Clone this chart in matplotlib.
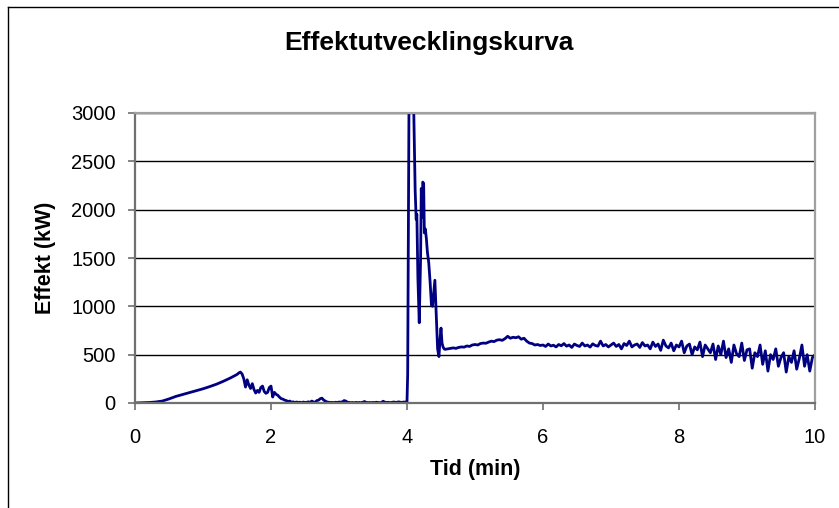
import matplotlib
matplotlib.use("Agg")
import matplotlib.pyplot as plt
from matplotlib.lines import Line2D
import numpy as np

plt.rcParams['font.family'] = ['Liberation Sans', 'DejaVu Sans']

# effect (kW), piece by piece along the time axis (min)
rise_t = (0.0, 1.5)
rise_kw = [0, 2, 5, 10, 20, 42, 68, 88, 108, 127, 147, 170, 195, 225, 258, 295]

decay_t = (1.5, 4.0)
decay_kw = [295, 310, 320, 300, 250, 165, 240, 185, 150, 200, 140, 103, 130, 110,
            160, 175, 120, 100, 110, 160, 175, 62, 110, 90, 80, 60, 45, 40, 30, 25,
            15, 20, 8, 12, 5, 10, 6, 8, 3, 10, 5, 7, 12, 6, 20, 10, 8, 25, 30, 45,
            50, 30, 20, 10, 8, 5, 6, 3, 8, 5, 10, 8, 12, 25, 20, 8, 5, 3, 5, 2, 6,
            4, 5, 3, 8, 15, 6, 4, 5, 3, 6, 4, 8, 5, 3, 6, 18, 8, 5, 7, 4, 6, 10, 8,
            6, 12, 8, 6, 10, 8, 12]

peak_t = [4.000, 4.010, 4.020, 4.030, 4.045, 4.060, 4.075, 4.090, 4.100, 4.120,
          4.135, 4.145, 4.160, 4.180, 4.200, 4.210, 4.220, 4.232, 4.245, 4.255,
          4.270, 4.285, 4.300, 4.320, 4.340, 4.360, 4.375, 4.395, 4.410, 4.430,
          4.450, 4.470, 4.485, 4.500, 4.515, 4.530, 4.545]
peak_kw = [12, 300, 1800, 3200, 3600, 3500, 3300, 3100, 3000, 2200,
           1900, 1950, 1300, 830, 1500, 2220, 1920, 2285, 2270, 1760,
           1800, 1700, 1560, 1450, 1250, 1010, 1000, 1150, 1270, 900,
           560, 480, 650, 775, 620, 580, 560]

plateau_t = (4.56, 6.0)
plateau_kw = [555, 560, 565, 570, 565, 575, 580, 578, 590, 585, 600, 605, 600, 615,
              620, 618, 630, 640, 635, 650, 655, 648, 665, 690, 670, 680, 675, 685,
              660, 670, 640, 620, 615, 600, 605, 595, 600]

tail_t = (6.0, 10.0)
tail_kw = [600, 585, 610, 590, 598, 580, 605, 592, 615, 588, 600, 575, 610, 595,
           585, 620, 590, 600, 578, 612, 595, 588, 640, 590, 605, 580, 600,
           620, 585, 605, 560, 615, 595, 640, 580, 600, 610, 575, 625, 590,
           600, 560, 630, 585, 610, 545, 650, 590, 570, 620, 540, 600, 580,
           640, 520, 590, 610, 500, 580, 550, 630, 480, 600, 560, 520, 610,
           450, 590, 500, 640, 470, 560, 420, 600, 510, 480, 620, 440, 550,
           560, 360, 520, 480, 600, 400, 540, 330, 500, 450, 560, 380, 470,
           520, 320, 480, 420, 540, 350, 460, 600, 380, 500, 330, 470, 500]

x_ticks = [0, 2, 4, 6, 8, 10]
y_ticks = [0, 500, 1000, 1500, 2000, 2500, 3000]

time = np.concatenate([
    np.linspace(*rise_t, len(rise_kw)),
    np.linspace(*decay_t, len(decay_kw))[1:],
    np.array(peak_t)[1:],
    np.linspace(*plateau_t, len(plateau_kw)),
    np.linspace(*tail_t, len(tail_kw))[1:],
])
power = np.concatenate([rise_kw, decay_kw[1:], peak_kw[1:], plateau_kw, tail_kw[1:]])

fig = plt.figure(figsize=(8.39, 5.08), dpi=100)
ax = fig.add_axes([135 / 839, 1 - 403 / 508, 680 / 839, 290 / 508])

ax.plot(time, power, color='#000080', linewidth=2.0, solid_joinstyle='round')

ax.set_xlim(0, 10)
ax.set_ylim(0, 3000)
ax.set_xticks(x_ticks)
ax.set_yticks(y_ticks)
ax.grid(axis='y', color='black', linewidth=1.0)
ax.set_axisbelow(True)

for side in ['left', 'bottom']:
    ax.spines[side].set_color('#707070')
    ax.spines[side].set_linewidth(1.6)
for side in ['top', 'right']:
    ax.spines[side].set_color('#a0a0a0')
    ax.spines[side].set_linewidth(1.6)

ax.tick_params(axis='both', direction='out', length=5, width=1.2, color='#707070',
               labelsize=14.5)
ax.tick_params(axis='x', pad=13)
ax.tick_params(axis='y', pad=9)

ax.set_title('Effektutvecklingskurva', fontsize=19, fontweight='bold', pad=0,
             x=(429 - 135) / 680, y=(403 - 43) / 290, va='center')
ax.set_xlabel('Tid (min)', fontsize=15.5, fontweight='bold')
ax.xaxis.set_label_coords(0.5, -(470 - 403) / 290)
ax.set_ylabel('Effekt (kW)', fontsize=15.5, fontweight='bold')
ax.yaxis.set_label_coords(-(135 - 45) / 680, 0.5)
ax.yaxis.label.set_va('center')
ax.xaxis.label.set_va('center')

# outer chart frame, only its top and left edges fall inside the image
fig.add_artist(Line2D([8 / 839, 8 / 839], [0, 1 - 7 / 508], color='black', linewidth=1.0))
fig.add_artist(Line2D([8 / 839, 1], [1 - 7 / 508, 1 - 7 / 508], color='black', linewidth=1.0))

fig.savefig('out.png', dpi=100)
